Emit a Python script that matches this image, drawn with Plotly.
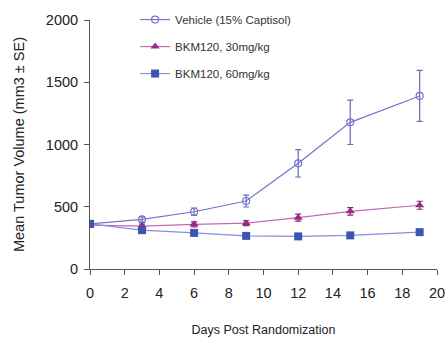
import plotly.graph_objects as go

days = [0, 3, 6, 9, 12, 15, 19]
vehicle = [362, 398, 460, 546, 849, 1178, 1390]
vehicle_err = [15, 20, 30, 48, 110, 178, 205]
bkm30 = [352, 345, 359, 368, 412, 463, 512]
bkm30_err = [12, 15, 20, 20, 28, 30, 32]
bkm60 = [362, 312, 290, 266, 262, 270, 296]
bkm60_err = [8, 10, 8, 8, 8, 8, 10]
names = ["Vehicle (15% Captisol)", "BKM120, 30mg/kg", "BKM120, 60mg/kg"]

fig = go.Figure()
fig.add_trace(go.Scatter(
    x=days, y=vehicle, name=names[0], mode="lines+markers", legendgroup="a",
    line=dict(color="#7474c8", width=1.2),
    marker=dict(symbol="circle-open", size=7, color="#7474c8", line=dict(width=1.2)),
    error_y=dict(type="data", array=vehicle_err, color="#6a6ac0", thickness=1.2, width=3)))
fig.add_trace(go.Scatter(
    x=days, y=bkm30, name=names[1], mode="lines+markers", legendgroup="b",
    line=dict(color="#c468b0", width=1.2),
    marker=dict(symbol="triangle-up", size=8, color="#9a2a88"),
    error_y=dict(type="data", array=bkm30_err, color="#8a2078", thickness=1.2, width=3)))
fig.add_trace(go.Scatter(
    x=days, y=bkm60, name=names[2], mode="lines+markers", legendgroup="c",
    line=dict(color="#8c8ce0", width=1.2),
    marker=dict(symbol="square", size=8, color="#3a55b2"),
    error_y=dict(type="data", array=bkm60_err, color="#3a55b2", thickness=1, width=3)))

axis_common = dict(showline=True, linecolor="#555555", linewidth=1, ticks="outside",
                   ticklen=5, tickcolor="#555555", showgrid=False, zeroline=False,
                   automargin=False, ticklabeloverflow="allow",
                   tickfont=dict(family="Liberation Sans, Arial", size=14.5, color="#222222"))
fig.update_layout(
    width=445, height=341,
    margin=dict(l=90, r=8, t=20, b=72, autoexpand=False),
    paper_bgcolor="white", plot_bgcolor="white",
    font=dict(family="Liberation Sans, Arial", color="#222222"),
    xaxis=dict(range=[0, 20], dtick=2, ticklabelstandoff=6,
               title=dict(text="Days Post Randomization", font=dict(size=12.5), standoff=24),
               **axis_common),
    yaxis=dict(range=[0, 2000], dtick=500, ticklabelstandoff=3,
               title=dict(text="Mean Tumor Volume (mm3 ± SE)", font=dict(size=14.5), standoff=17),
               **axis_common),
    legend=dict(x=0.13, y=1.06, xanchor="left", yanchor="top", bgcolor="rgba(0,0,0,0)",
                font=dict(size=11.5, color="#333333"), itemwidth=30, tracegroupgap=8),
    showlegend=True,
)
fig.write_html("out.html", config={"displayModeBar": False},
               post_script="document.body.style.margin='0';")
